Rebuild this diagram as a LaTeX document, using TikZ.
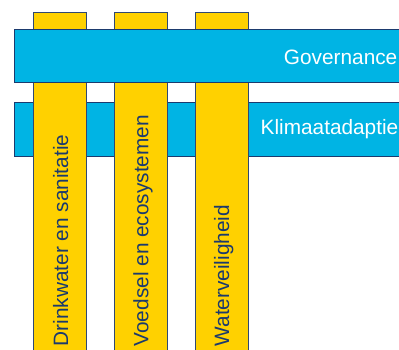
\documentclass[tikz,border=0pt]{standalone}
\usepackage{fontspec}
\setmainfont{Liberation Sans}
\definecolor{bandblue}{HTML}{00B4E4}
\definecolor{baryellow}{HTML}{FFD100}
\definecolor{navy}{HTML}{1B3A6E}
\begin{document}
\begin{tikzpicture}[x=1pt,y=-1pt,
  band/.style={fill=bandblue,draw=navy,line width=0.9pt},
  pillar/.style={fill=baryellow,draw=navy!80!gray,line width=0.9pt},
  bandtext/.style={text=white,font=\fontsize{20.8}{24}\selectfont,inner sep=0pt,anchor=base east},
  pillartext/.style={text=navy,font=\fontsize{20.8}{24}\selectfont,inner sep=0pt,rotate=90,anchor=base west}]
\useasboundingbox (0,0) rectangle (399,349);
\begin{scope}
\clip (0,0) rectangle (399,349);
% lower band (under pillars)
\path[band] (420,102.7) -- (14.3,102.7) -- (14.3,156) -- (420,156);
% pillars
\path[pillar] (33.3,360) -- (33.3,12.7) -- (86.7,12.7) -- (86.7,360);
\path[pillar] (114.3,360) -- (114.3,12.7) -- (167.7,12.7) -- (167.7,360);
\path[pillar] (195,360) -- (195,12.7) -- (248.3,12.7) -- (248.3,360);
% upper band (over pillars)
\path[band] (420,29.3) -- (14.3,29.3) -- (14.3,82.7) -- (420,82.7);
\node[bandtext] (gov) at (397.5,64.3) {Governance};
\node[bandtext] (klim) at (398.5,134.3) {Klimaatadaptie};
\node[pillartext] (drink) at (68.2,346.5) {Drinkwater en sanitatie};
\node[pillartext] (voed) at (148.4,346.5) {Voedsel en ecosystemen};
\node[pillartext] (veil) at (229.2,346.5) {Waterveiligheid};
\end{scope}
\end{tikzpicture}
\end{document}
